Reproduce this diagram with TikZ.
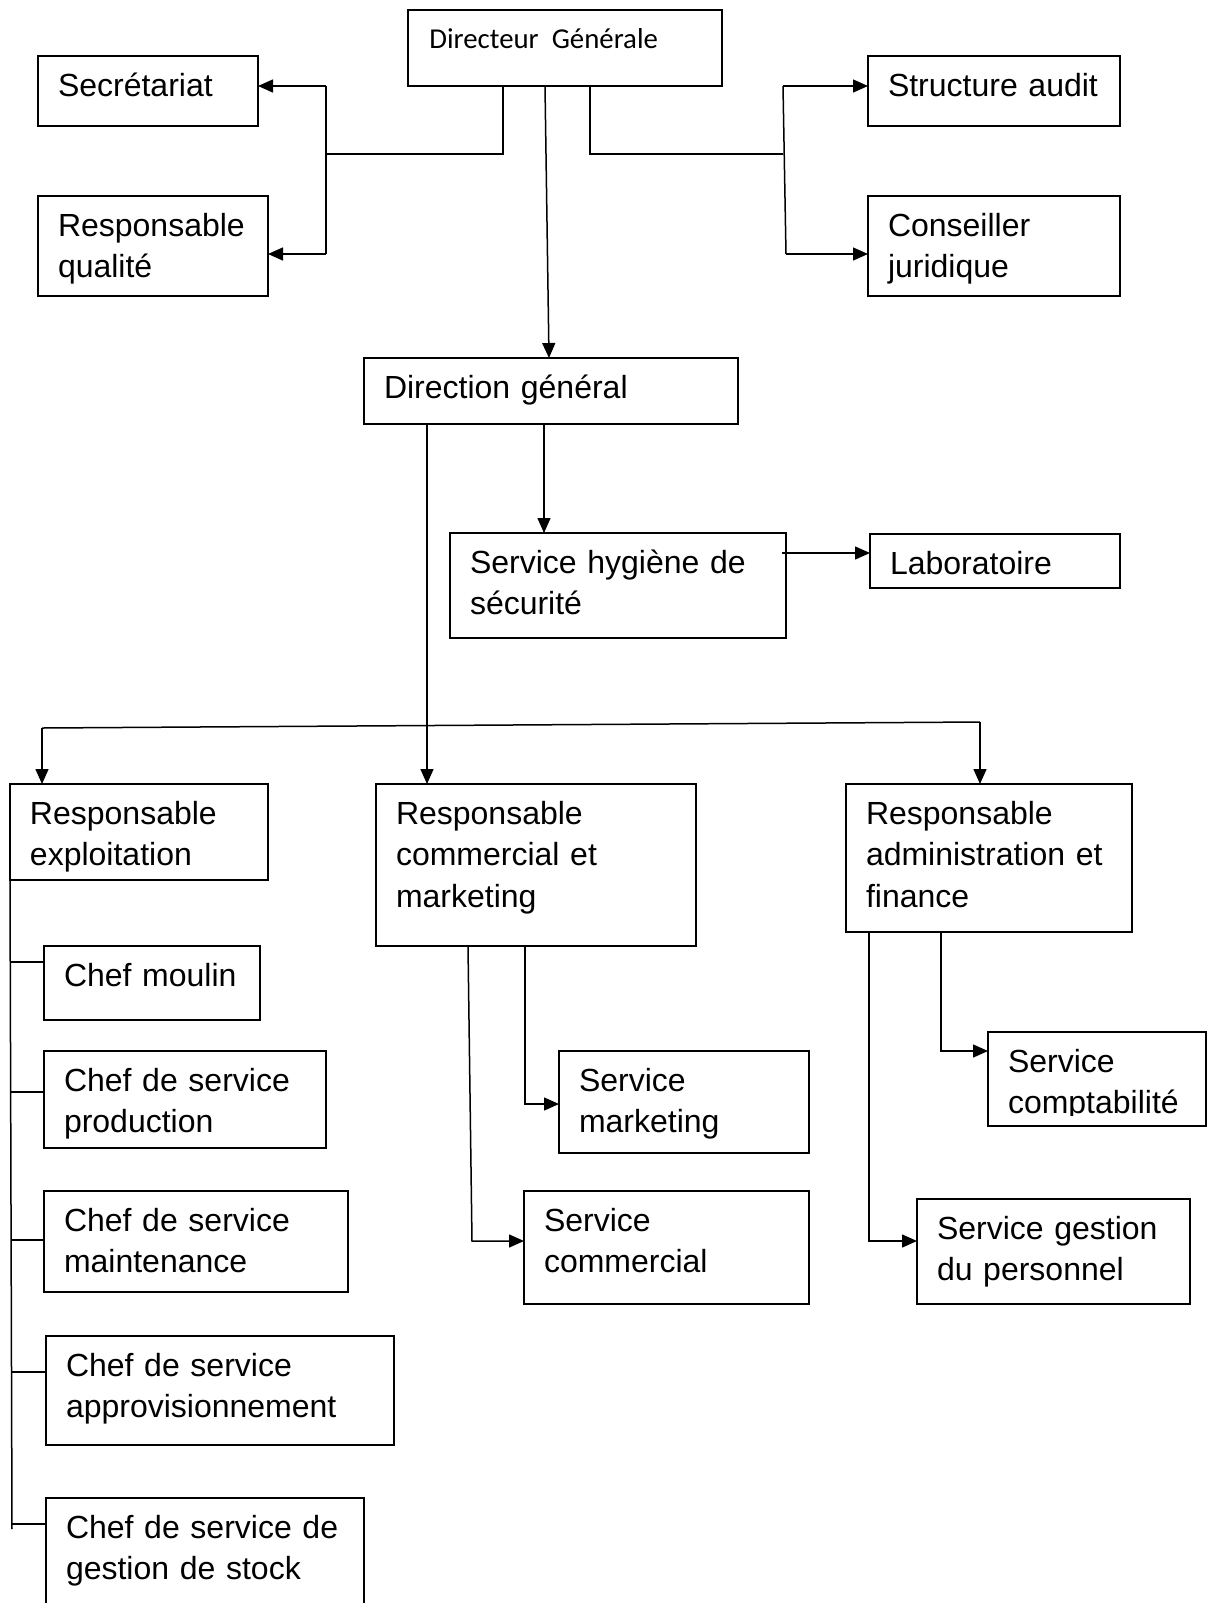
\documentclass[tikz,border=0pt]{standalone}
\usepackage{fontspec}
\setmainfont{Liberation Sans}
\newfontfamily\calfont{Carlito}
\usetikzlibrary{arrows.meta}
\tikzset{
  boxshape/.style={draw, line width=0.9pt, inner sep=0pt, outer sep=0pt, rectangle},
  txt/.style={anchor=base west, inner sep=0pt, outer sep=0pt, align=left,
    font=\fontsize{16}{20.8}\selectfont},
  conn/.style={line width=0.75pt},
  arr/.style={line width=0.75pt, -{Triangle[length=7.5pt,width=6.5pt]}}
}
\newcommand\orgframe[5]{%
  \pgfmathsetmacro\orgw{(#4-#2)*0.5}%
  \pgfmathsetmacro\orgh{(#5-#3)*0.5}%
  \pgfmathsetmacro\orgtw{(#4-#2-24)*0.5}%
  \node[boxshape, minimum width=\orgw pt, minimum height=\orgh pt, anchor=north west] (#1) at (#2,#3) {};}
\newcommand\orgtext[3][]{%
  \node[txt, text width=\orgtw pt, #1] (#2-t) at ([shift={(20,40)}]#2.north west) {#3};}
\begin{document}
\begin{tikzpicture}[x=0.5pt, y=-0.5pt]
\clip (0,0) rectangle (1210,1603);
\path[use as bounding box] (0,0) rectangle (1210,1603);

% ---- top level
\orgframe{dg}{408}{10}{722}{86}
\node[anchor=base west, inner sep=0pt, font=\calfont\fontsize{14.4}{17}\selectfont] (dg-t)
  at ([shift={(21,38)}]dg.north west) {Directeur\ \ Générale};
\orgframe{sec}{38}{56}{258}{126}\orgtext{sec}{Secrétariat}
\orgframe{qual}{38}{196}{268}{296}\orgtext{qual}{Responsable\\qualité}
\orgframe{aud}{868}{56}{1120}{126}\orgtext{aud}{Structure audit}
\orgframe{jur}{868}{196}{1120}{296}\orgtext{jur}{Conseiller\\juridique}

\orgframe{dirg}{364}{358}{738}{424}\orgtext{dirg}{Direction général}
\orgframe{hyg}{450}{533}{786}{638}\orgtext{hyg}{Service hygiène de\\sécurité}
\orgframe{lab}{870}{534}{1120}{588}\orgtext{lab}{Laboratoire}

% ---- responsables
\orgframe{expl}{10}{784}{268}{880}\orgtext{expl}{Responsable\\exploitation}
\orgframe{com}{376}{784}{696}{946}\orgtext{com}{Responsable\\commercial et\\marketing}
\orgframe{adm}{846}{784}{1132}{932}\orgtext{adm}{Responsable\\administration et\\finance}

% ---- chefs
\orgframe{moul}{44}{946}{260}{1020}\orgtext{moul}{Chef moulin}
\orgframe{prod}{44}{1051}{326}{1148}\orgtext{prod}{Chef de service\\production}
\orgframe{maint}{44}{1191}{348}{1292}\orgtext{maint}{Chef de service\\maintenance}
\orgframe{appro}{46}{1336}{394}{1445}\orgtext{appro}{Chef de service\\approvisionnement}
\orgframe{stock}{46}{1498}{364}{1650}\orgtext{stock}{Chef de service de\\gestion de stock}

% ---- services
\orgframe{mkt}{559}{1051}{809}{1153}\orgtext{mkt}{Service\\marketing}
\orgframe{scom}{524}{1191}{809}{1304}\orgtext{scom}{Service\\commercial}
\orgframe{cpt}{988}{1032}{1206}{1126}
\begin{scope}
  \clip (980,1030) rectangle (1210,1115);
  \orgtext{cpt}{Service\\comptabilité}
\end{scope}
\orgframe{gp}{917}{1199}{1190}{1304}\orgtext{gp}{Service gestion\\du personnel}

% ---- connectors, top
\coordinate (jL) at (503,154);
\coordinate (bL) at (326,154);
\coordinate (aS) at (326,86);
\coordinate (aQ) at (326,254);
\draw[conn] (dg.south -| jL) -- (jL) -- (bL);
\draw[conn] (aS) -- (aQ);
\draw[arr] (aS) -- (sec.east |- aS);
\draw[arr] (aQ) -- (qual.east |- aQ);

\coordinate (jR) at (590,154);
\coordinate (bR) at (783,154);
\coordinate (aA) at (783,86);
\coordinate (aJ) at (786,254);
\draw[conn] (dg.south -| jR) -- (jR) -- (bR);
\draw[conn] (aA) -- (aJ);
\draw[arr] (aA) -- (aud.west |- aA);
\draw[arr] (aJ) -- (jur.west |- aJ);

\coordinate (cA) at (545,0);
\coordinate (cB) at (549,0);
\draw[arr] (dg.south -| cA) -- (dirg.north -| cB);

\coordinate (cH) at (544,0);
\draw[arr] (dirg.south -| cH) -- (hyg.north -| cH);
\coordinate (cL) at (782,553);
\draw[arr] (cL) -- (lab.west |- cL);

% ---- connectors, middle
\coordinate (cV) at (427,0);
\draw[arr] (dirg.south -| cV) -- (com.north -| cV);
\coordinate (hL) at (42,728);
\coordinate (hR) at (980,722);
\draw[conn] (hL) -- (hR);
\draw[arr] (hL) -- (expl.north -| hL);
\draw[arr] (hR) -- (adm.north -| hR);

% ---- exploitation branch
\coordinate (eB) at (12,1529);
\draw[conn] (expl.south west) -- (eB);
\coordinate (t1) at (11,962);
\coordinate (t2) at (11,1092);
\coordinate (t3) at (11,1240);
\coordinate (t4) at (11,1372);
\coordinate (t5) at (12,1524);
\draw[conn] (t1) -- (moul.west |- t1);
\draw[conn] (t2) -- (prod.west |- t2);
\draw[conn] (t3) -- (maint.west |- t3);
\draw[conn] (t4) -- (appro.west |- t4);
\draw[conn] (t5) -- (stock.west |- t5);

% ---- commercial branch
\coordinate (mB) at (525,1104);
\draw[arr] (com.south -| mB) -- (mB) -- (mkt.west |- mB);
\coordinate (cT) at (468,0);
\coordinate (cC) at (472,1241);
\draw[arr] (com.south -| cT) -- (cC) -- (scom.west |- cC);

% ---- administration branch
\coordinate (kB) at (941,1051);
\draw[arr] (adm.south -| kB) -- (kB) -- (cpt.west |- kB);
\coordinate (gB) at (869,1241);
\draw[arr] (adm.south -| gB) -- (gB) -- (gp.west |- gB);
\end{tikzpicture}
\end{document}
